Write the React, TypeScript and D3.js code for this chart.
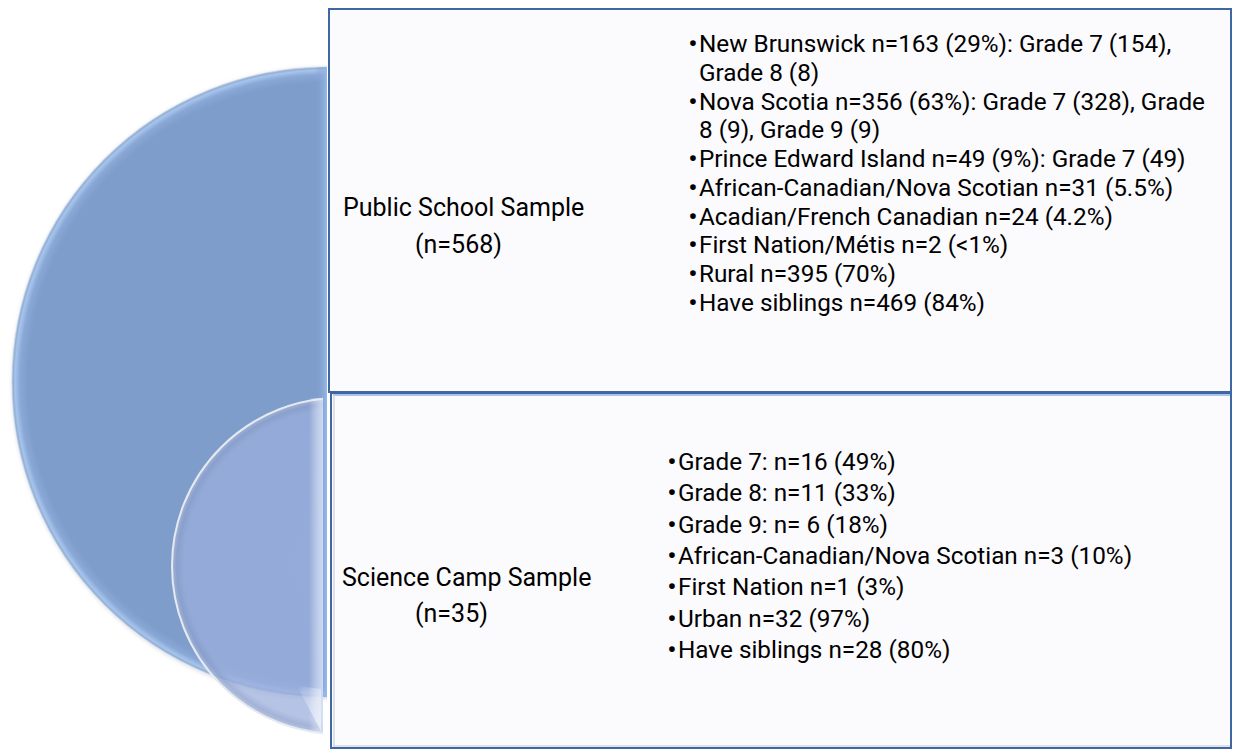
import React from "react";
import * as d3 from "d3";

// ---------- data ----------
const groupLabels = ["Public School Sample", "Science Camp Sample"];
const groupCounts = ["(n=568)", "(n=35)"];

// each entry: list of lines of one bullet item
const publicItems: string[][] = [
  ["New Brunswick n=163 (29%): Grade 7 (154),", "Grade 8 (8)"],
  ["Nova Scotia n=356 (63%): Grade 7 (328), Grade", "8 (9), Grade 9 (9)"],
  ["Prince Edward Island n=49 (9%): Grade 7 (49)"],
  ["African-Canadian/Nova Scotian n=31 (5.5%)"],
  ["Acadian/French Canadian n=24 (4.2%)"],
  ["First Nation/Métis n=2 (<1%)"],
  ["Rural n=395 (70%)"],
  ["Have siblings n=469 (84%)"],
];

const campItems: string[][] = [
  ["Grade 7: n=16 (49%)"],
  ["Grade 8: n=11 (33%)"],
  ["Grade 9: n= 6 (18%)"],
  ["African-Canadian/Nova Scotian n=3 (10%)"],
  ["First Nation n=1 (3%)"],
  ["Urban n=32 (97%)"],
  ["Have siblings n=28 (80%)"],
];

// ---------- layout ----------
const W = 1235;
const H = 751;
const FONT = "Roboto, 'Open Sans', sans-serif";

const bigCircle = { cx: 327, cy: 382, r: 315, clipX: 327 };
const smallCircle = { cx: 340, cy: 566, r: 168, clipX: 323 };

const topBox = { x: 329, y: 9, w: 902, h: 383 };
const botBox = { x: 331, y: 393, w: 900, h: 355 };

type Line = { text: string; bullet: boolean };
function flatten(items: string[][]): Line[] {
  const out: Line[] = [];
  items.forEach((it) => it.forEach((t, i) => out.push({ text: t, bullet: i === 0 })));
  return out;
}

function BulletLine({ x, y, line }: { x: number; y: number; line: Line }) {
  return (
    <text y={y}>
      {line.bullet && (
        <tspan x={x - 10.5} fontWeight="bold">
          •
        </tspan>
      )}
      <tspan x={x}>{line.text}</tspan>
    </text>
  );
}

export default function App() {
  const topLines = flatten(publicItems);
  const botLines = flatten(campItems);

  const yTop = d3.scaleLinear().domain([0, topLines.length - 1]).range([52, 311]);
  const yBot = d3.scaleLinear().domain([0, botLines.length - 1]).range([470, 658]);

  const arcBig = d3.arc()({
    innerRadius: 0,
    outerRadius: bigCircle.r,
    startAngle: -Math.PI,
    endAngle: 0,
  } as any) as string;

  const topTextX = 699;
  const botTextX = 678;

  return (
    <svg
      width={W}
      height={H}
      style={{ position: "absolute", left: 0, top: 0, display: "block" }}
      fontFamily={FONT}
    >
      <defs>
        <radialGradient id="bigGrad" cx={bigCircle.cx} cy={bigCircle.cy} r={bigCircle.r} gradientUnits="userSpaceOnUse">
          <stop offset="0" stopColor="#7f9dca" />
          <stop offset="0.95" stopColor="#7f9dca" />
          <stop offset="0.975" stopColor="#89a8d6" />
          <stop offset="0.99" stopColor="#a6c4ec" />
          <stop offset="1" stopColor="#8fa3c0" />
        </radialGradient>
        <linearGradient id="bigEdge" x1="0" x2="1" y1="0" y2="0">
          <stop offset="0" stopColor="#7f9dca" stopOpacity="0" />
          <stop offset="1" stopColor="#96b8ea" stopOpacity="1" />
        </linearGradient>
        <radialGradient id="smallGrad" cx={smallCircle.cx} cy={smallCircle.cy} r={smallCircle.r} gradientUnits="userSpaceOnUse">
          <stop offset="0" stopColor="rgb(157,176,222)" stopOpacity="0.74" />
          <stop offset="0.93" stopColor="rgb(155,174,220)" stopOpacity="0.74" />
          <stop offset="0.97" stopColor="rgb(140,160,205)" stopOpacity="0.8" />
          <stop offset="1" stopColor="rgb(170,185,215)" stopOpacity="0.85" />
        </radialGradient>
        <linearGradient id="smallEdge" x1="0" x2="1" y1="0" y2="0">
          <stop offset="0" stopColor="#ffffff" stopOpacity="0" />
          <stop offset="1" stopColor="#dfe9fa" stopOpacity="0.75" />
        </linearGradient>
        <linearGradient id="smallCorner" x1="0" x2="1" y1="0" y2="1">
          <stop offset="0" stopColor="#ffffff" stopOpacity="0" />
          <stop offset="1" stopColor="#eef3fb" stopOpacity="0.8" />
        </linearGradient>
        <clipPath id="clipBig">
          <rect x={0} y={0} width={bigCircle.clipX} height={H} />
        </clipPath>
        <clipPath id="clipSmall">
          <rect x={0} y={0} width={smallCircle.clipX} height={H} />
        </clipPath>
        <filter id="softShadow" x="-5%" y="-5%" width="110%" height="110%">
          <feGaussianBlur in="SourceAlpha" stdDeviation="2" />
          <feOffset dx="1" dy="1" result="b" />
          <feFlood floodColor="#000" floodOpacity="0.18" />
          <feComposite in2="b" operator="in" />
          <feMerge>
            <feMergeNode />
            <feMergeNode in="SourceGraphic" />
          </feMerge>
        </filter>
      </defs>

      {/* big half circle */}
      <g clipPath="url(#clipBig)" filter="url(#softShadow)">
        <circle cx={bigCircle.cx} cy={bigCircle.cy} r={bigCircle.r} fill="url(#bigGrad)" />
        <path
          d={arcBig}
          transform={`translate(${bigCircle.cx},${bigCircle.cy})`}
          fill="none"
          stroke="#c0d6f4"
          strokeOpacity={0.6}
          strokeWidth={1.5}
        />
        <rect
          x={bigCircle.clipX - 12}
          y={bigCircle.cy - bigCircle.r}
          width={12}
          height={bigCircle.r * 2}
          fill="url(#bigEdge)"
        />
      </g>

      {/* small half circle */}
      <g clipPath="url(#clipSmall)">
        <circle
          cx={smallCircle.cx}
          cy={smallCircle.cy}
          r={smallCircle.r}
          fill="url(#smallGrad)"
          stroke="#e4e9f2"
          strokeWidth={2}
        />
        <rect
          x={smallCircle.clipX - 14}
          y={smallCircle.cy - smallCircle.r}
          width={14}
          height={smallCircle.r * 2}
          fill="url(#smallEdge)"
        />
        <path
          d={`M${smallCircle.clipX - 2},${smallCircle.cy + smallCircle.r - 3} L${smallCircle.clipX - 2},${smallCircle.cy + smallCircle.r - 45} L${smallCircle.clipX - 26},${smallCircle.cy + smallCircle.r - 48} Z`}
          fill="url(#smallCorner)"
        />
      </g>

      {/* boxes */}
      <rect x={topBox.x} y={topBox.y} width={topBox.w} height={topBox.h} fill="#fbfafd" stroke="#3f68a3" strokeWidth={2} />
      <rect x={botBox.x} y={botBox.y} width={botBox.w} height={botBox.h} fill="#fbfafd" stroke="#3f68a3" strokeWidth={2} />
      <line x1={botBox.x + 2} x2={botBox.x + botBox.w - 1} y1={botBox.y + 2} y2={botBox.y + 2} stroke="#a9c3ea" strokeWidth={2} />
      <line x1={botBox.x + 3} x2={botBox.x + 3} y1={botBox.y + 2} y2={botBox.y + botBox.h - 1} stroke="#d6d9e0" strokeWidth={1.5} />
      <line x1={botBox.x + 2} x2={botBox.x + botBox.w - 1} y1={botBox.y + botBox.h - 2} y2={botBox.y + botBox.h - 2} stroke="#d6d9e0" strokeWidth={1.5} />

      {/* group labels */}
      <g fill="#000" fontSize={25}>
        <text x={343} y={216}>{groupLabels[0]}</text>
        <text x={415} y={253}>{groupCounts[0]}</text>
        <text x={342} y={586}>{groupLabels[1]}</text>
        <text x={415} y={622}>{groupCounts[1]}</text>
      </g>

      {/* bullets */}
      <g fill="#000" fontSize={24.3}>
        {topLines.map((l, i) => (
          <BulletLine key={"t" + i} x={topTextX} y={yTop(i)} line={l} />
        ))}
        {botLines.map((l, i) => (
          <BulletLine key={"b" + i} x={botTextX} y={yBot(i)} line={l} />
        ))}
      </g>
    </svg>
  );
}
